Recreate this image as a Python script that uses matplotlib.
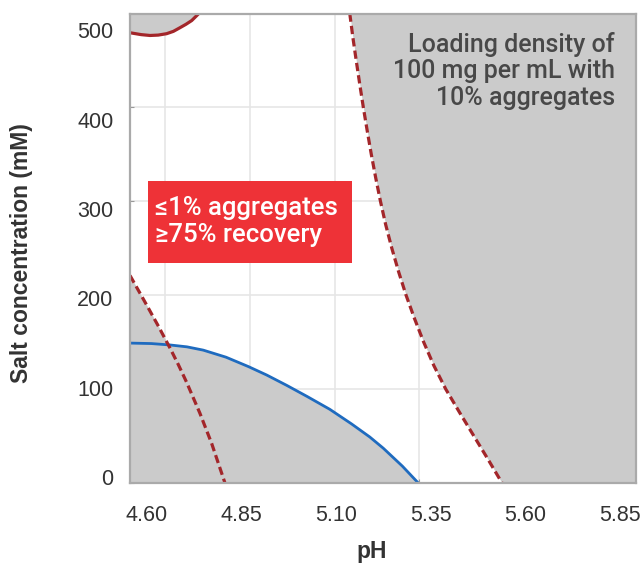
import matplotlib
matplotlib.use("Agg")
import matplotlib.pyplot as plt
from matplotlib.patches import Rectangle

# ---------------- data ----------------
ph_ticks = [4.60, 4.85, 5.10, 5.35, 5.60, 5.85]
ph_tick_labels = ["4.60", "4.85", "5.10", "5.35", "5.60", "5.85"]
salt_ticks = [0, 100, 200, 300, 400, 500]
salt_tick_labels = ["0", "100", "200", "300", "400", "500"]

# blue solid contour (recovery)
blue_ph = [4.497, 4.560, 4.615, 4.665, 4.713, 4.780, 4.846, 4.900, 4.959,
           5.020, 5.086, 5.150, 5.204, 5.244, 5.300, 5.347]
blue_salt = [149, 148.5, 147, 145, 141.5, 134, 124, 115, 104,
             92, 78.5, 63, 49, 37, 18, 0]

# left red dashed contour (aggregates)
redL_ph = [4.497, 4.522, 4.546, 4.580, 4.615, 4.640, 4.664, 4.703, 4.738, 4.777]
redL_salt = [221, 205, 189.6, 167.5, 143.7, 125.7, 107.2, 74.4, 41.9, 0]

# top-left red solid contour
redT_ph = [4.497, 4.530, 4.556, 4.580, 4.605, 4.625, 4.644, 4.662, 4.679, 4.700]
redT_salt = [479.5, 477.5, 476.6, 477.0, 478.5, 481.0, 484.8, 488.5, 492.5, 500]

# right red dashed contour
redR_ph = [5.145, 5.154, 5.164, 5.1743, 5.185, 5.1965, 5.2085, 5.2215, 5.2355,
           5.251, 5.269, 5.289, 5.311, 5.336, 5.363, 5.393, 5.428, 5.469,
           5.511, 5.553, 5.594]
redR_salt = [500, 475, 450, 425, 400, 375, 350, 325, 300,
             275, 250, 225, 200, 175, 150, 125, 100, 75,
             50, 25, 0]

annotation = "Loading density of\n100 mg per mL with\n10% aggregates"
box_text = "\u22641% aggregates\n\u226575% recovery"

# ---------------- style / layout ----------------
XMIN, XMAX = 4.497, 5.989
YMIN, YMAX = 0, 500
GRAY = "#cbcbcb"
RED = "#a3262a"
BLUE = "#1f6bbf"
BOXRED = "#ee3237"
FONT = ["Liberation Sans", "DejaVu Sans"]
ANNOT_FONT = ["Roboto", "DejaVu Sans"]
plt.rcParams["font.family"] = FONT

# label positions in the reference are slightly offset from the grid
LABEL_X0, LABEL_XSCALE = 4.547, 1.115
LABEL_Y0, LABEL_YSCALE = 6.4, 0.951

fig = plt.figure(figsize=(6.44, 5.63), dpi=100)
ax = fig.add_axes([130 / 644, 80 / 563, 506 / 644, 469.5 / 563])
ax.set_xlim(XMIN, XMAX)
ax.set_ylim(YMIN, YMAX)

# grid
ax.set_xticks(ph_ticks)
ax.set_yticks(salt_ticks)
ax.tick_params(which="major", direction="in", length=3, color="#999999",
               labelbottom=False, labelleft=False)
ax.grid(True, which="major", color="#e6e6e6", linewidth=1.2, zorder=0)
ax.set_axisbelow(True)

# tick labels (minor ticks at the label positions)
ax.set_xticks([LABEL_X0 + (v - ph_ticks[0]) * LABEL_XSCALE for v in ph_ticks],
              labels=ph_tick_labels, minor=True)
ax.set_yticks([LABEL_Y0 + v * LABEL_YSCALE for v in salt_ticks],
              labels=salt_tick_labels, minor=True)
ax.tick_params(which="minor", length=0, labelsize=15.5, labelcolor="#333333")
ax.tick_params(axis="x", which="minor", pad=16)
ax.tick_params(axis="y", which="minor", pad=12)

# gray regions
ax.fill_between(blue_ph, 0, blue_salt, color=GRAY, lw=0, zorder=1)
ax.fill_betweenx(redL_salt, XMIN, redL_ph, color=GRAY, lw=0, zorder=1)
ax.fill_between(redT_ph, redT_salt, YMAX, color=GRAY, lw=0, zorder=1)
ax.fill_betweenx(redR_salt, redR_ph, XMAX, color=GRAY, lw=0, zorder=1)

# contour lines
ax.plot(blue_ph, blue_salt, color=BLUE, lw=2.0, zorder=3, solid_capstyle="butt")
ax.plot(redL_ph, redL_salt, color=RED, lw=2.3, dashes=(2.6, 1.3), zorder=3)
ax.plot(redR_ph, redR_salt, color=RED, lw=2.3, dashes=(2.6, 1.3), zorder=3)
ax.plot(redT_ph, redT_salt, color=RED, lw=2.3, zorder=3)

for s in ax.spines.values():
    s.set_color("#aaaaaa")
    s.set_linewidth(1.6)
    s.set_zorder(4)

# annotations
ax.add_patch(Rectangle((0.0356, 0.4686), 0.4031, 0.1746, transform=ax.transAxes,
                       facecolor=BOXRED, edgecolor="none", zorder=5))
ax.text(0.049, 0.557, box_text, transform=ax.transAxes, ha="left", va="center",
        fontsize=18.5, color="white", linespacing=1.2, zorder=6,
        family=ANNOT_FONT, fontweight="medium")
ax.text(0.958, 0.878, annotation, transform=ax.transAxes, ha="right", va="center",
        fontsize=18, color="#484848", linespacing=1.12, zorder=6,
        family=ANNOT_FONT, fontweight="medium")

ax.set_xlabel("pH", fontsize=16.5, fontweight="bold", color="#333333")
ax.xaxis.set_label_coords(0.478, -0.121)
ax.set_ylabel("Salt concentration (mM)", fontsize=16.5, fontweight="bold",
              color="#333333")
ax.yaxis.set_label_coords(-0.1917, 0.49)

fig.savefig("out.png", dpi=100)
